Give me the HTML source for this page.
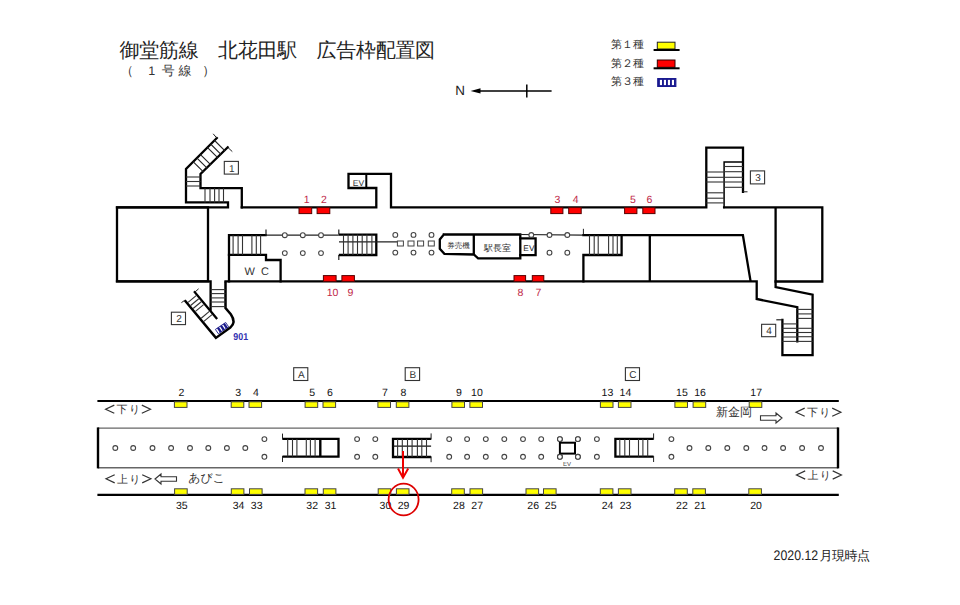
<!DOCTYPE html>
<html><head><meta charset="utf-8"><style>
html,body{margin:0;padding:0;background:#fff;width:960px;height:605px;overflow:hidden}
svg{position:absolute;left:0;top:0}
text{font-family:"Liberation Sans",sans-serif;text-rendering:geometricPrecision}
</style></head><body>
<svg width="960" height="605" viewBox="0 0 960 605">
<text x="119.6" y="56.8" font-size="20" fill="#222" textLength="315.5" lengthAdjust="spacing">御堂筋線　北花田駅　広告枠配置図</text>
<text x="120.4" y="74.8" font-size="13" fill="#333">（</text><text x="151.7" y="74.9" font-size="12.5" fill="#333" text-anchor="middle">1</text><text x="168.3" y="74.8" font-size="13" fill="#333" text-anchor="middle">号</text><text x="184.9" y="74.8" font-size="13" fill="#333" text-anchor="middle">線</text><text x="202.3" y="74.8" font-size="13" fill="#333">）</text>
<text x="611" y="47.8" font-size="11" fill="#333">第１種</text>
<text x="611" y="66.8" font-size="11" fill="#333">第２種</text>
<text x="611" y="85.3" font-size="11" fill="#333">第３種</text>
<rect x="657.3" y="42.2" width="17.7" height="6.8" fill="#ff0" stroke="#222" stroke-width="1"/>
<line x1="653.6" y1="50" x2="679.6" y2="50" stroke="#000" stroke-width="2"/>
<rect x="657.3" y="60" width="17.7" height="7.3" fill="#f00" stroke="#300" stroke-width="1"/>
<line x1="653.6" y1="68.3" x2="679.6" y2="68.3" stroke="#000" stroke-width="2"/>
<rect x="657.7" y="78.5" width="18.2" height="8" fill="#1a1a90" stroke="#1a1a90" stroke-width="1"/>
<rect x="659.9" y="79.9" width="2.1" height="5.2" fill="#fff"/><rect x="663.9" y="79.9" width="2.1" height="5.2" fill="#fff"/><rect x="667.9" y="79.9" width="2.1" height="5.2" fill="#fff"/><rect x="671.9" y="79.9" width="2.1" height="5.2" fill="#fff"/>
<text x="455.2" y="95.4" font-size="13.4" fill="#222">N</text>
<path d="M470.6,90.9 L480.5,88.2 L480.5,93.6 Z" fill="#000"/>
<line x1="479" y1="90.9" x2="551.6" y2="90.9" stroke="#000" stroke-width="1.5"/>
<line x1="526.8" y1="84.6" x2="526.8" y2="97.4" stroke="#000" stroke-width="1.5"/>
<path d="M117,207.4 L117,281.4 L208,281.4 L208,207.4 L117,207.4" stroke="#000" stroke-width="2.3" fill="none" stroke-linecap="square" />
<path d="M117,207.4 L228,207.4 L228,202.4 L186,202.4 L186,169 L216.8,138.1" stroke="#000" stroke-width="2.3" fill="none" stroke-linecap="square" />
<path d="M241.8,207.4 L241.8,188.2 L200.5,188.2 L200.5,174 L227.7,147.3" stroke="#000" stroke-width="2.3" fill="none" stroke-linecap="square" />
<line x1="216.8" y1="138.1" x2="213.2" y2="133.8" stroke="#222" stroke-width="1"/>
<line x1="227.7" y1="147.3" x2="232.3" y2="151.6" stroke="#222" stroke-width="1"/>
<line x1="193.04999999999998" y1="161.54999999999998" x2="203.65" y2="172.15" stroke="#222" stroke-width="1.1"/>
<line x1="196.75" y1="157.84999999999997" x2="207.35000000000002" y2="168.45" stroke="#222" stroke-width="1.1"/>
<line x1="200.25" y1="154.34999999999997" x2="210.85000000000002" y2="164.95" stroke="#222" stroke-width="1.1"/>
<line x1="207.29999999999998" y1="147.29999999999998" x2="217.9" y2="157.9" stroke="#222" stroke-width="1.1"/>
<line x1="210.6" y1="143.99999999999997" x2="221.20000000000002" y2="154.6" stroke="#222" stroke-width="1.1"/>
<line x1="214.35" y1="140.24999999999997" x2="224.95000000000002" y2="150.85" stroke="#222" stroke-width="1.1"/>
<line x1="186" y1="177" x2="200.5" y2="177" stroke="#333" stroke-width="1.1"/>
<line x1="186" y1="181.5" x2="200.5" y2="181.5" stroke="#333" stroke-width="1.1"/>
<line x1="186" y1="186" x2="200.5" y2="186" stroke="#333" stroke-width="1.1"/>
<line x1="205" y1="188.2" x2="205" y2="202.4" stroke="#333" stroke-width="1.1"/>
<line x1="210" y1="188.2" x2="210" y2="202.4" stroke="#333" stroke-width="1.1"/>
<line x1="214.6" y1="188.2" x2="214.6" y2="202.4" stroke="#333" stroke-width="1.1"/>
<line x1="219" y1="188.2" x2="219" y2="202.4" stroke="#333" stroke-width="1.1"/>
<line x1="223.5" y1="188.2" x2="223.5" y2="202.4" stroke="#333" stroke-width="1.1"/>
<rect x="224.3" y="161.4" width="14.099999999999994" height="12.699999999999989" fill="#fff" stroke="#333" stroke-width="1.1"/>
<text x="231.85000000000002" y="171.6" font-size="10" fill="#333" text-anchor="middle" >1</text>
<path d="M241.8,207.4 L376.3,207.4 L376.3,188 L348.5,188 L348.5,173.9 L391,173.9 L391,207.4 L706.3,207.4 L706.3,147.6 L743,147.6 L743,191.8" stroke="#000" stroke-width="2.3" fill="none" stroke-linecap="square" />
<line x1="366.3" y1="173.9" x2="366.3" y2="188" stroke="#000" stroke-width="2"/>
<text x="358.5" y="186" font-size="8.5" fill="#333" text-anchor="middle" >EV</text>
<path d="M724.1,207.4 L724.1,162 L743,162" stroke="#000" stroke-width="1.5" fill="none" stroke-linecap="square" />
<line x1="743" y1="191.8" x2="747.5" y2="191.8" stroke="#222" stroke-width="1"/>
<line x1="724.1" y1="166.5" x2="743" y2="166.5" stroke="#333" stroke-width="1.1"/>
<line x1="724.1" y1="171.7" x2="743" y2="171.7" stroke="#333" stroke-width="1.1"/>
<line x1="724.1" y1="177.3" x2="743" y2="177.3" stroke="#333" stroke-width="1.1"/>
<line x1="724.1" y1="182" x2="743" y2="182" stroke="#333" stroke-width="1.1"/>
<line x1="724.1" y1="187.3" x2="743" y2="187.3" stroke="#333" stroke-width="1.1"/>
<line x1="706.3" y1="172" x2="724.1" y2="172" stroke="#333" stroke-width="1.1"/>
<line x1="706.3" y1="177.3" x2="724.1" y2="177.3" stroke="#333" stroke-width="1.1"/>
<line x1="706.3" y1="182" x2="724.1" y2="182" stroke="#333" stroke-width="1.1"/>
<line x1="706.3" y1="192.8" x2="724.1" y2="192.8" stroke="#333" stroke-width="1.1"/>
<line x1="706.3" y1="198.2" x2="724.1" y2="198.2" stroke="#333" stroke-width="1.1"/>
<line x1="706.3" y1="202.9" x2="724.1" y2="202.9" stroke="#333" stroke-width="1.1"/>
<rect x="750.4" y="170.9" width="14.200000000000045" height="13.0" fill="#fff" stroke="#333" stroke-width="1.1"/>
<text x="758.0" y="181.4" font-size="10" fill="#333" text-anchor="middle" >3</text>
<path d="M724.1,207.4 L822.3,207.4 L822.3,281.5 L775.6,281.5 L775.6,207.4" stroke="#000" stroke-width="2.3" fill="none" stroke-linecap="square" />
<path d="M117,281.4 L210.6,281.4 L210.6,309.5" stroke="#000" stroke-width="2.3" fill="none" stroke-linecap="square" />
<path d="M225.5,281.4 L756.7,281.4 L756.7,299 L797.3,307.2 L797.3,341.4" stroke="#000" stroke-width="2.3" fill="none" stroke-linecap="square" />
<path d="M775.6,281.5 L775.6,287.1 L812.6,294.6 L812.6,355.1 L782.4,355.1 L782.4,319.8" stroke="#000" stroke-width="2.3" fill="none" stroke-linecap="square" />
<line x1="782.4" y1="319.8" x2="776.3" y2="319.8" stroke="#222" stroke-width="1.2"/>
<line x1="797.3" y1="309.4" x2="812.6" y2="309.4" stroke="#333" stroke-width="1.1"/>
<line x1="797.3" y1="313.9" x2="812.6" y2="313.9" stroke="#333" stroke-width="1.1"/>
<line x1="797.3" y1="318.4" x2="812.6" y2="318.4" stroke="#333" stroke-width="1.1"/>
<line x1="797.3" y1="328.3" x2="812.6" y2="328.3" stroke="#333" stroke-width="1.1"/>
<line x1="797.3" y1="332.5" x2="812.6" y2="332.5" stroke="#333" stroke-width="1.1"/>
<line x1="797.3" y1="336.7" x2="812.6" y2="336.7" stroke="#333" stroke-width="1.1"/>
<line x1="797.3" y1="341.4" x2="812.6" y2="341.4" stroke="#333" stroke-width="1.1"/>
<line x1="782.4" y1="323.9" x2="797.3" y2="323.9" stroke="#333" stroke-width="1.1"/>
<line x1="782.4" y1="328.3" x2="797.3" y2="328.3" stroke="#333" stroke-width="1.1"/>
<line x1="782.4" y1="332.5" x2="797.3" y2="332.5" stroke="#333" stroke-width="1.1"/>
<line x1="782.4" y1="337" x2="797.3" y2="337" stroke="#333" stroke-width="1.1"/>
<line x1="782.4" y1="341.4" x2="797.3" y2="341.4" stroke="#333" stroke-width="1.1"/>
<rect x="761.6" y="324.3" width="14.100000000000023" height="12.399999999999977" fill="#fff" stroke="#333" stroke-width="1.1"/>
<text x="769.1500000000001" y="334.2" font-size="10" fill="#333" text-anchor="middle" >4</text>
<path d="M650,235.2 L742.9,235.2 L750.6,281.4" stroke="#000" stroke-width="2.3" fill="none" stroke-linecap="butt" />
<line x1="649.8" y1="235.2" x2="649.8" y2="281.4" stroke="#000" stroke-width="2.3"/>
<path d="M583.4,229.3 L583.4,235.2" stroke="#222" stroke-width="1" fill="none" stroke-linecap="square" />
<path d="M583.4,235.2 L650,235.2" stroke="#000" stroke-width="2.3" fill="none" stroke-linecap="square" />
<path d="M621.6,235.2 L621.6,255 L583.4,255 L583.4,281.4" stroke="#000" stroke-width="2.3" fill="none" stroke-linecap="square" />
<line x1="589.5" y1="235.2" x2="589.5" y2="255" stroke="#333" stroke-width="1.1"/>
<line x1="594.2" y1="235.2" x2="594.2" y2="255" stroke="#333" stroke-width="1.1"/>
<line x1="598.2" y1="235.2" x2="598.2" y2="255" stroke="#333" stroke-width="1.1"/>
<line x1="608.6" y1="235.2" x2="608.6" y2="255" stroke="#333" stroke-width="1.1"/>
<line x1="613" y1="235.2" x2="613" y2="255" stroke="#333" stroke-width="1.1"/>
<line x1="617.3" y1="235.2" x2="617.3" y2="255" stroke="#333" stroke-width="1.1"/>
<path d="M265.6,235.2 L229,235.2 L229,281.4" stroke="#000" stroke-width="2.3" fill="none" stroke-linecap="square" />
<path d="M229,254.8 L266,254.8 L266,260 L280.6,260 L280.6,281.4" stroke="#000" stroke-width="2.3" fill="none" stroke-linecap="square" />
<line x1="233.1" y1="235.2" x2="233.1" y2="254.8" stroke="#333" stroke-width="1.1"/>
<line x1="238.1" y1="235.2" x2="238.1" y2="254.8" stroke="#333" stroke-width="1.1"/>
<line x1="242.5" y1="235.2" x2="242.5" y2="254.8" stroke="#333" stroke-width="1.1"/>
<line x1="251.9" y1="235.2" x2="251.9" y2="254.8" stroke="#333" stroke-width="1.1"/>
<line x1="256.3" y1="235.2" x2="256.3" y2="254.8" stroke="#333" stroke-width="1.1"/>
<line x1="260.6" y1="235.2" x2="260.6" y2="254.8" stroke="#333" stroke-width="1.1"/>
<text x="249.8" y="275.2" font-size="11" fill="#333" text-anchor="middle" >W</text>
<text x="265" y="275.2" font-size="11" fill="#333" text-anchor="middle" >C</text>
<line x1="265.6" y1="235.2" x2="338.8" y2="235.2" stroke="#222" stroke-width="1.2"/>
<line x1="266" y1="229.4" x2="266" y2="235.2" stroke="#222" stroke-width="1.2"/>
<line x1="338.8" y1="229.5" x2="338.8" y2="234.5" stroke="#222" stroke-width="1.2"/>
<line x1="338.8" y1="255" x2="338.8" y2="260" stroke="#222" stroke-width="1.2"/>
<path d="M338.8,234.6 L376.3,234.6 L376.3,255 L338.8,255" stroke="#000" stroke-width="2.3" fill="none" stroke-linecap="butt" />
<line x1="339" y1="241.8" x2="398" y2="241.8" stroke="#222" stroke-width="1.2"/>
<line x1="343.5" y1="234.6" x2="343.5" y2="255" stroke="#333" stroke-width="1.1"/>
<line x1="348.1" y1="234.6" x2="348.1" y2="255" stroke="#333" stroke-width="1.1"/>
<line x1="352.9" y1="234.6" x2="352.9" y2="255" stroke="#333" stroke-width="1.1"/>
<line x1="357.5" y1="234.6" x2="357.5" y2="255" stroke="#333" stroke-width="1.1"/>
<line x1="362.2" y1="234.6" x2="362.2" y2="255" stroke="#333" stroke-width="1.1"/>
<line x1="366.9" y1="234.6" x2="366.9" y2="255" stroke="#333" stroke-width="1.1"/>
<line x1="371.9" y1="234.6" x2="371.9" y2="255" stroke="#333" stroke-width="1.1"/>
<circle cx="284.8" cy="235.2" r="2.4" stroke="#444" stroke-width="1.1" fill="#fff"/>
<circle cx="284.8" cy="253.1" r="2.4" stroke="#444" stroke-width="1.1" fill="#fff"/>
<circle cx="302.8" cy="235.2" r="2.4" stroke="#444" stroke-width="1.1" fill="#fff"/>
<circle cx="302.8" cy="253.1" r="2.4" stroke="#444" stroke-width="1.1" fill="#fff"/>
<circle cx="321" cy="235.2" r="2.4" stroke="#444" stroke-width="1.1" fill="#fff"/>
<circle cx="321" cy="253.1" r="2.4" stroke="#444" stroke-width="1.1" fill="#fff"/>
<circle cx="395.3" cy="234.9" r="2.4" stroke="#444" stroke-width="1.1" fill="#fff"/>
<circle cx="395.3" cy="252.6" r="2.4" stroke="#444" stroke-width="1.1" fill="#fff"/>
<circle cx="413.5" cy="234.9" r="2.4" stroke="#444" stroke-width="1.1" fill="#fff"/>
<circle cx="413.5" cy="252.6" r="2.4" stroke="#444" stroke-width="1.1" fill="#fff"/>
<circle cx="431.5" cy="234.9" r="2.4" stroke="#444" stroke-width="1.1" fill="#fff"/>
<circle cx="431.5" cy="252.6" r="2.4" stroke="#444" stroke-width="1.1" fill="#fff"/>
<rect x="397.4" y="241" width="6" height="5" fill="#fff" stroke="#444" stroke-width="1"/>
<rect x="408" y="241" width="6" height="5" fill="#fff" stroke="#444" stroke-width="1"/>
<rect x="417.6" y="241" width="6" height="5" fill="#fff" stroke="#444" stroke-width="1"/>
<rect x="428.3" y="241" width="6" height="5" fill="#fff" stroke="#444" stroke-width="1"/>
<path d="M443.8,234.5 L520.3,234.5 L520.3,258.3 L478.1,258.3 L473.8,254.5 L444.4,253.9 L439.8,248.9 L439.8,239.5 L443.8,234.5" stroke="#000" stroke-width="2.3" fill="none" stroke-linecap="square" />
<line x1="473.8" y1="234.5" x2="473.8" y2="254.5" stroke="#000" stroke-width="2.3"/>
<text x="458.5" y="247.6" font-size="7.5" fill="#333" text-anchor="middle" >券売機</text>
<text x="497.5" y="250.6" font-size="9" fill="#333" text-anchor="middle" >駅長室</text>
<path d="M520.3,238.3 L535.6,238.3 L535.6,255.1 L520.3,255.1" stroke="#000" stroke-width="2.3" fill="none" stroke-linecap="square" />
<text x="528.9" y="251.3" font-size="8.3" fill="#222" text-anchor="middle" >EV</text>
<line x1="520.3" y1="234.5" x2="583.4" y2="235.2" stroke="#222" stroke-width="1.2"/>
<circle cx="531.3" cy="235" r="2.4" stroke="#444" stroke-width="1.1" fill="#fff"/>
<circle cx="549.5" cy="235" r="2.4" stroke="#444" stroke-width="1.1" fill="#fff"/>
<circle cx="567.3" cy="235" r="2.4" stroke="#444" stroke-width="1.1" fill="#fff"/>
<circle cx="549.5" cy="252.7" r="2.4" stroke="#444" stroke-width="1.1" fill="#fff"/>
<circle cx="567.3" cy="252.7" r="2.4" stroke="#444" stroke-width="1.1" fill="#fff"/>
<path d="M225.5,281.4 L225.5,308 L230.8,314.3 Q236.5,322.5 230.3,327.6 L215.9,337.9 L184.7,300.3" stroke="#000" stroke-width="2.5" fill="none" stroke-linejoin="miter"/>
<line x1="184.7" y1="300.3" x2="181.4" y2="302.7" stroke="#222" stroke-width="1"/>
<path d="M194.8,292.2 L216.4,318.1" stroke="#000" stroke-width="2.3" fill="none" stroke-linecap="square" />
<line x1="194.8" y1="292.2" x2="198.6" y2="288.8" stroke="#222" stroke-width="1"/>
<line x1="210.6" y1="289.6" x2="225.5" y2="289.6" stroke="#333" stroke-width="1.1"/>
<line x1="210.6" y1="293.6" x2="225.5" y2="293.6" stroke="#333" stroke-width="1.1"/>
<line x1="210.6" y1="297.9" x2="225.5" y2="297.9" stroke="#333" stroke-width="1.1"/>
<line x1="210.6" y1="302" x2="225.5" y2="302" stroke="#333" stroke-width="1.1"/>
<line x1="210.6" y1="306.6" x2="225.5" y2="306.6" stroke="#333" stroke-width="1.1"/>
<line x1="188.03826666666666" y1="302.432" x2="196.17906666666664" y2="295.64799999999997" stroke="#333" stroke-width="1.1"/>
<line x1="190.6216" y1="305.53200000000004" x2="198.76239999999999" y2="298.748" stroke="#333" stroke-width="1.1"/>
<line x1="193.1216" y1="308.53200000000004" x2="201.26239999999999" y2="301.748" stroke="#333" stroke-width="1.1"/>
<line x1="195.45493333333334" y1="311.33200000000005" x2="203.59573333333333" y2="304.548" stroke="#333" stroke-width="1.1"/>
<line x1="201.20493333333332" y1="318.232" x2="209.3457333333333" y2="311.448" stroke="#333" stroke-width="1.1"/>
<line x1="203.87159999999997" y1="321.432" x2="212.01239999999996" y2="314.64799999999997" stroke="#333" stroke-width="1.1"/>
<rect x="171.4" y="312.2" width="14.099999999999994" height="12.400000000000034" fill="#fff" stroke="#333" stroke-width="1.1"/>
<text x="178.95" y="322.1" font-size="10" fill="#333" text-anchor="middle" >2</text>
<g transform="translate(222.0,328.1) rotate(-34)"><rect x="-6.2" y="-2.6" width="12.4" height="5.2" fill="#fff" stroke="#1a1a8a" stroke-width="0.8"/><rect x="-4.3" y="-2.6" width="2.3" height="5.2" fill="#1a1a8a"/><rect x="-0.7" y="-2.6" width="2.3" height="5.2" fill="#1a1a8a"/><rect x="2.9" y="-2.6" width="2.3" height="5.2" fill="#1a1a8a"/></g>
<text x="233.3" y="340.3" font-size="10" font-weight="bold" fill="#3030b0" textLength="14.8" lengthAdjust="spacingAndGlyphs">901</text>
<rect x="299" y="207.6" width="12.699999999999989" height="6.0" fill="#f00" stroke="#500" stroke-width="1"/>
<rect x="317.1" y="207.6" width="12.699999999999989" height="6.0" fill="#f00" stroke="#500" stroke-width="1"/>
<rect x="550.8" y="207.6" width="12.100000000000023" height="6.0" fill="#f00" stroke="#500" stroke-width="1"/>
<rect x="568.7" y="207.6" width="12.5" height="6.0" fill="#f00" stroke="#500" stroke-width="1"/>
<rect x="624.6" y="207.6" width="12.299999999999955" height="6.0" fill="#f00" stroke="#500" stroke-width="1"/>
<rect x="642.8" y="207.6" width="12.200000000000045" height="6.0" fill="#f00" stroke="#500" stroke-width="1"/>
<text x="306.7" y="202.6" font-size="10.5" fill="#c02848" text-anchor="middle">1</text>
<text x="323.8" y="202.6" font-size="10.5" fill="#c02848" text-anchor="middle">2</text>
<text x="557.4" y="202.6" font-size="10.5" fill="#c02848" text-anchor="middle">3</text>
<text x="575.6" y="202.6" font-size="10.5" fill="#c02848" text-anchor="middle">4</text>
<text x="632.9" y="202.6" font-size="10.5" fill="#c02848" text-anchor="middle">5</text>
<text x="649.4" y="202.6" font-size="10.5" fill="#c02848" text-anchor="middle">6</text>
<rect x="323.4" y="275.6" width="12.700000000000045" height="5.8" fill="#f00" stroke="#500" stroke-width="1"/>
<rect x="341.9" y="275.6" width="12.5" height="5.8" fill="#f00" stroke="#500" stroke-width="1"/>
<rect x="514" y="275.6" width="11.600000000000023" height="5.8" fill="#f00" stroke="#500" stroke-width="1"/>
<rect x="532.3" y="275.6" width="11.5" height="5.8" fill="#f00" stroke="#500" stroke-width="1"/>
<text x="332.5" y="295.7" font-size="10.5" fill="#c02848" text-anchor="middle">10</text>
<text x="350.5" y="295.7" font-size="10.5" fill="#c02848" text-anchor="middle">9</text>
<text x="520.5" y="295.7" font-size="10.5" fill="#c02848" text-anchor="middle">8</text>
<text x="538.5" y="295.7" font-size="10.5" fill="#c02848" text-anchor="middle">7</text>
<line x1="97.4" y1="401" x2="838.8" y2="401" stroke="#000" stroke-width="2.2"/>
<line x1="97.4" y1="494.8" x2="838.8" y2="494.8" stroke="#000" stroke-width="2.2"/>
<line x1="98" y1="428.1" x2="838" y2="428.1" stroke="#666" stroke-width="1.4"/>
<line x1="98" y1="467.7" x2="838" y2="467.7" stroke="#666" stroke-width="1.4"/>
<line x1="98" y1="427.4" x2="98" y2="468.4" stroke="#000" stroke-width="2.4"/>
<line x1="838" y1="427.4" x2="838" y2="468.4" stroke="#000" stroke-width="2.4"/>
<rect x="174.4" y="401.8" width="12.6" height="5.6" fill="#ff0" stroke="#444" stroke-width="1"/>
<text x="181.4" y="396" font-size="10.5" fill="#111" text-anchor="middle">2</text>
<rect x="231.2" y="401.8" width="12.6" height="5.6" fill="#ff0" stroke="#444" stroke-width="1"/>
<text x="238.2" y="396" font-size="10.5" fill="#111" text-anchor="middle">3</text>
<rect x="249" y="401.8" width="12.6" height="5.6" fill="#ff0" stroke="#444" stroke-width="1"/>
<text x="256" y="396" font-size="10.5" fill="#111" text-anchor="middle">4</text>
<rect x="305.1" y="401.8" width="12.6" height="5.6" fill="#ff0" stroke="#444" stroke-width="1"/>
<text x="312.1" y="396" font-size="10.5" fill="#111" text-anchor="middle">5</text>
<rect x="323" y="401.8" width="12.6" height="5.6" fill="#ff0" stroke="#444" stroke-width="1"/>
<text x="330" y="396" font-size="10.5" fill="#111" text-anchor="middle">6</text>
<rect x="377.9" y="401.8" width="12.6" height="5.6" fill="#ff0" stroke="#444" stroke-width="1"/>
<text x="384.9" y="396" font-size="10.5" fill="#111" text-anchor="middle">7</text>
<rect x="396.3" y="401.8" width="12.6" height="5.6" fill="#ff0" stroke="#444" stroke-width="1"/>
<text x="403.3" y="396" font-size="10.5" fill="#111" text-anchor="middle">8</text>
<rect x="451.9" y="401.8" width="12.6" height="5.6" fill="#ff0" stroke="#444" stroke-width="1"/>
<text x="458.9" y="396" font-size="10.5" fill="#111" text-anchor="middle">9</text>
<rect x="469.9" y="401.8" width="12.6" height="5.6" fill="#ff0" stroke="#444" stroke-width="1"/>
<text x="476.9" y="396" font-size="10.5" fill="#111" text-anchor="middle">10</text>
<rect x="600.4" y="401.8" width="12.6" height="5.6" fill="#ff0" stroke="#444" stroke-width="1"/>
<text x="607.4" y="396" font-size="10.5" fill="#111" text-anchor="middle">13</text>
<rect x="618.4" y="401.8" width="12.6" height="5.6" fill="#ff0" stroke="#444" stroke-width="1"/>
<text x="625.4" y="396" font-size="10.5" fill="#111" text-anchor="middle">14</text>
<rect x="674.9" y="401.8" width="12.6" height="5.6" fill="#ff0" stroke="#444" stroke-width="1"/>
<text x="681.9" y="396" font-size="10.5" fill="#111" text-anchor="middle">15</text>
<rect x="693.1" y="401.8" width="12.6" height="5.6" fill="#ff0" stroke="#444" stroke-width="1"/>
<text x="700.1" y="396" font-size="10.5" fill="#111" text-anchor="middle">16</text>
<rect x="749.2" y="401.8" width="12.6" height="5.6" fill="#ff0" stroke="#444" stroke-width="1"/>
<text x="756.2" y="396" font-size="10.5" fill="#111" text-anchor="middle">17</text>
<rect x="174.6" y="488.8" width="12.6" height="5.6" fill="#ff0" stroke="#444" stroke-width="1"/>
<text x="181.79999999999998" y="509" font-size="10.5" fill="#111" text-anchor="middle">35</text>
<rect x="231.3" y="488.8" width="12.6" height="5.6" fill="#ff0" stroke="#444" stroke-width="1"/>
<text x="238.5" y="509" font-size="10.5" fill="#111" text-anchor="middle">34</text>
<rect x="249.5" y="488.8" width="12.6" height="5.6" fill="#ff0" stroke="#444" stroke-width="1"/>
<text x="256.7" y="509" font-size="10.5" fill="#111" text-anchor="middle">33</text>
<rect x="305" y="488.8" width="12.6" height="5.6" fill="#ff0" stroke="#444" stroke-width="1"/>
<text x="312.2" y="509" font-size="10.5" fill="#111" text-anchor="middle">32</text>
<rect x="323.3" y="488.8" width="12.6" height="5.6" fill="#ff0" stroke="#444" stroke-width="1"/>
<text x="330.5" y="509" font-size="10.5" fill="#111" text-anchor="middle">31</text>
<rect x="378.2" y="488.8" width="12.6" height="5.6" fill="#ff0" stroke="#444" stroke-width="1"/>
<text x="385.4" y="509" font-size="10.5" fill="#111" text-anchor="middle">30</text>
<rect x="396.4" y="488.8" width="12.6" height="5.6" fill="#ff0" stroke="#444" stroke-width="1"/>
<text x="403.59999999999997" y="509" font-size="10.5" fill="#111" text-anchor="middle">29</text>
<rect x="451.7" y="488.8" width="12.6" height="5.6" fill="#ff0" stroke="#444" stroke-width="1"/>
<text x="458.9" y="509" font-size="10.5" fill="#111" text-anchor="middle">28</text>
<rect x="470" y="488.8" width="12.6" height="5.6" fill="#ff0" stroke="#444" stroke-width="1"/>
<text x="477.2" y="509" font-size="10.5" fill="#111" text-anchor="middle">27</text>
<rect x="526" y="488.8" width="12.6" height="5.6" fill="#ff0" stroke="#444" stroke-width="1"/>
<text x="533.2" y="509" font-size="10.5" fill="#111" text-anchor="middle">26</text>
<rect x="543.5" y="488.8" width="12.6" height="5.6" fill="#ff0" stroke="#444" stroke-width="1"/>
<text x="550.7" y="509" font-size="10.5" fill="#111" text-anchor="middle">25</text>
<rect x="600.3" y="488.8" width="12.6" height="5.6" fill="#ff0" stroke="#444" stroke-width="1"/>
<text x="607.5" y="509" font-size="10.5" fill="#111" text-anchor="middle">24</text>
<rect x="618.4" y="488.8" width="12.6" height="5.6" fill="#ff0" stroke="#444" stroke-width="1"/>
<text x="625.6" y="509" font-size="10.5" fill="#111" text-anchor="middle">23</text>
<rect x="674.7" y="488.8" width="12.6" height="5.6" fill="#ff0" stroke="#444" stroke-width="1"/>
<text x="681.9000000000001" y="509" font-size="10.5" fill="#111" text-anchor="middle">22</text>
<rect x="692.8" y="488.8" width="12.6" height="5.6" fill="#ff0" stroke="#444" stroke-width="1"/>
<text x="700.0" y="509" font-size="10.5" fill="#111" text-anchor="middle">21</text>
<rect x="748.8" y="488.8" width="12.6" height="5.6" fill="#ff0" stroke="#444" stroke-width="1"/>
<text x="756.0" y="509" font-size="10.5" fill="#111" text-anchor="middle">20</text>
<circle cx="115.3" cy="448" r="2.4" stroke="#444" stroke-width="1.1" fill="#fff"/>
<circle cx="133.2" cy="448" r="2.4" stroke="#444" stroke-width="1.1" fill="#fff"/>
<circle cx="152.5" cy="448" r="2.4" stroke="#444" stroke-width="1.1" fill="#fff"/>
<circle cx="171.1" cy="448" r="2.4" stroke="#444" stroke-width="1.1" fill="#fff"/>
<circle cx="190" cy="448" r="2.4" stroke="#444" stroke-width="1.1" fill="#fff"/>
<circle cx="208.3" cy="448" r="2.4" stroke="#444" stroke-width="1.1" fill="#fff"/>
<circle cx="226.9" cy="448" r="2.4" stroke="#444" stroke-width="1.1" fill="#fff"/>
<circle cx="245.3" cy="448" r="2.4" stroke="#444" stroke-width="1.1" fill="#fff"/>
<circle cx="708.3" cy="448" r="2.4" stroke="#444" stroke-width="1.1" fill="#fff"/>
<circle cx="727.3" cy="448" r="2.4" stroke="#444" stroke-width="1.1" fill="#fff"/>
<circle cx="746.3" cy="448" r="2.4" stroke="#444" stroke-width="1.1" fill="#fff"/>
<circle cx="764.5" cy="448" r="2.4" stroke="#444" stroke-width="1.1" fill="#fff"/>
<circle cx="783.1" cy="448" r="2.4" stroke="#444" stroke-width="1.1" fill="#fff"/>
<circle cx="802.1" cy="448" r="2.4" stroke="#444" stroke-width="1.1" fill="#fff"/>
<circle cx="821" cy="448" r="2.4" stroke="#444" stroke-width="1.1" fill="#fff"/>
<circle cx="264.4" cy="439.1" r="2.4" stroke="#444" stroke-width="1.1" fill="#fff"/>
<circle cx="264.4" cy="456.8" r="2.4" stroke="#444" stroke-width="1.1" fill="#fff"/>
<circle cx="357.1" cy="439.1" r="2.4" stroke="#444" stroke-width="1.1" fill="#fff"/>
<circle cx="357.1" cy="456.8" r="2.4" stroke="#444" stroke-width="1.1" fill="#fff"/>
<circle cx="375.3" cy="439.1" r="2.4" stroke="#444" stroke-width="1.1" fill="#fff"/>
<circle cx="375.3" cy="456.8" r="2.4" stroke="#444" stroke-width="1.1" fill="#fff"/>
<circle cx="449.2" cy="439.1" r="2.4" stroke="#444" stroke-width="1.1" fill="#fff"/>
<circle cx="449.2" cy="456.8" r="2.4" stroke="#444" stroke-width="1.1" fill="#fff"/>
<circle cx="467.1" cy="439.1" r="2.4" stroke="#444" stroke-width="1.1" fill="#fff"/>
<circle cx="467.1" cy="456.8" r="2.4" stroke="#444" stroke-width="1.1" fill="#fff"/>
<circle cx="485.8" cy="439.1" r="2.4" stroke="#444" stroke-width="1.1" fill="#fff"/>
<circle cx="485.8" cy="456.8" r="2.4" stroke="#444" stroke-width="1.1" fill="#fff"/>
<circle cx="504.3" cy="439.1" r="2.4" stroke="#444" stroke-width="1.1" fill="#fff"/>
<circle cx="504.3" cy="456.8" r="2.4" stroke="#444" stroke-width="1.1" fill="#fff"/>
<circle cx="523" cy="439.1" r="2.4" stroke="#444" stroke-width="1.1" fill="#fff"/>
<circle cx="523" cy="456.8" r="2.4" stroke="#444" stroke-width="1.1" fill="#fff"/>
<circle cx="541.2" cy="439.1" r="2.4" stroke="#444" stroke-width="1.1" fill="#fff"/>
<circle cx="541.2" cy="456.8" r="2.4" stroke="#444" stroke-width="1.1" fill="#fff"/>
<circle cx="559.9" cy="439.1" r="2.4" stroke="#444" stroke-width="1.1" fill="#fff"/>
<circle cx="559.9" cy="456.8" r="2.4" stroke="#444" stroke-width="1.1" fill="#fff"/>
<circle cx="577.9" cy="439.1" r="2.4" stroke="#444" stroke-width="1.1" fill="#fff"/>
<circle cx="577.9" cy="456.8" r="2.4" stroke="#444" stroke-width="1.1" fill="#fff"/>
<circle cx="596.9" cy="439.1" r="2.4" stroke="#444" stroke-width="1.1" fill="#fff"/>
<circle cx="596.9" cy="456.8" r="2.4" stroke="#444" stroke-width="1.1" fill="#fff"/>
<circle cx="671.4" cy="439.1" r="2.4" stroke="#444" stroke-width="1.1" fill="#fff"/>
<circle cx="671.4" cy="456.8" r="2.4" stroke="#444" stroke-width="1.1" fill="#fff"/>
<circle cx="689.5" cy="448" r="2.4" stroke="#444" stroke-width="1.1" fill="#fff"/>
<path d="M282.5,438.9 L338.5,438.9 L338.5,456.6 L282.5,456.6" stroke="#000" stroke-width="2.3" fill="none" stroke-linecap="butt" />
<line x1="282.5" y1="433.6" x2="282.5" y2="439.5" stroke="#222" stroke-width="1"/>
<line x1="282.5" y1="456" x2="282.5" y2="462" stroke="#222" stroke-width="1"/>
<line x1="320.3" y1="438.9" x2="320.3" y2="456.6" stroke="#000" stroke-width="2.4"/>
<line x1="287.7" y1="438.9" x2="287.7" y2="456.6" stroke="#333" stroke-width="1.1"/>
<line x1="292.5" y1="438.9" x2="292.5" y2="456.6" stroke="#333" stroke-width="1.1"/>
<line x1="296.9" y1="438.9" x2="296.9" y2="456.6" stroke="#333" stroke-width="1.1"/>
<line x1="306.3" y1="438.9" x2="306.3" y2="456.6" stroke="#333" stroke-width="1.1"/>
<line x1="310.4" y1="438.9" x2="310.4" y2="456.6" stroke="#333" stroke-width="1.1"/>
<line x1="315.1" y1="438.9" x2="315.1" y2="456.6" stroke="#333" stroke-width="1.1"/>
<path d="M431.1,438.9 L393,438.9 L393,457 L431.1,457" stroke="#000" stroke-width="2.3" fill="none" stroke-linecap="butt" />
<line x1="393" y1="446.1" x2="431.1" y2="446.1" stroke="#111" stroke-width="1.4"/>
<line x1="431.1" y1="433.4" x2="431.1" y2="439.5" stroke="#222" stroke-width="1"/>
<line x1="431.1" y1="456.4" x2="431.1" y2="462.2" stroke="#222" stroke-width="1"/>
<line x1="397.6" y1="438.9" x2="397.6" y2="457" stroke="#333" stroke-width="1.1"/>
<line x1="402.3" y1="438.9" x2="402.3" y2="457" stroke="#333" stroke-width="1.1"/>
<line x1="407.5" y1="438.9" x2="407.5" y2="457" stroke="#333" stroke-width="1.1"/>
<line x1="412.1" y1="438.9" x2="412.1" y2="457" stroke="#333" stroke-width="1.1"/>
<line x1="417.4" y1="438.9" x2="417.4" y2="457" stroke="#333" stroke-width="1.1"/>
<line x1="421.8" y1="438.9" x2="421.8" y2="457" stroke="#333" stroke-width="1.1"/>
<line x1="426.5" y1="438.9" x2="426.5" y2="457" stroke="#333" stroke-width="1.1"/>
<path d="M653.6,438.9 L615.4,438.9 L615.4,456.6 L653.6,456.6" stroke="#000" stroke-width="2.3" fill="none" stroke-linecap="butt" />
<line x1="653.6" y1="433.4" x2="653.6" y2="439.5" stroke="#222" stroke-width="1"/>
<line x1="653.6" y1="456" x2="653.6" y2="462" stroke="#222" stroke-width="1"/>
<line x1="619.8" y1="438.9" x2="619.8" y2="456.6" stroke="#333" stroke-width="1.1"/>
<line x1="624.8" y1="438.9" x2="624.8" y2="456.6" stroke="#333" stroke-width="1.1"/>
<line x1="629.5" y1="438.9" x2="629.5" y2="456.6" stroke="#333" stroke-width="1.1"/>
<line x1="638.5" y1="438.9" x2="638.5" y2="456.6" stroke="#333" stroke-width="1.1"/>
<line x1="642.9" y1="438.9" x2="642.9" y2="456.6" stroke="#333" stroke-width="1.1"/>
<line x1="647.7" y1="438.9" x2="647.7" y2="456.6" stroke="#333" stroke-width="1.1"/>
<rect x="559.9" y="442.7" width="15.1" height="10.9" fill="none" stroke="#000" stroke-width="2"/>
<circle cx="559.9" cy="439.1" r="2.4" stroke="#444" stroke-width="1.1" fill="#fff"/>
<circle cx="559.9" cy="456.8" r="2.4" stroke="#444" stroke-width="1.1" fill="#fff"/>
<circle cx="577.9" cy="439.1" r="2.4" stroke="#444" stroke-width="1.1" fill="#fff"/>
<circle cx="577.9" cy="456.8" r="2.4" stroke="#444" stroke-width="1.1" fill="#fff"/>
<text x="567" y="465.8" font-size="6" fill="#444" text-anchor="middle" >EV</text>
<rect x="293.7" y="367.7" width="14.100000000000023" height="12.800000000000011" fill="#fff" stroke="#333" stroke-width="1.1"/>
<text x="301.25" y="378.0" font-size="10" fill="#333" text-anchor="middle" >A</text>
<rect x="405.2" y="367.7" width="14.400000000000034" height="12.800000000000011" fill="#fff" stroke="#333" stroke-width="1.1"/>
<text x="412.9" y="378.0" font-size="10" fill="#333" text-anchor="middle" >B</text>
<rect x="625.4" y="367.7" width="14.100000000000023" height="12.800000000000011" fill="#fff" stroke="#333" stroke-width="1.1"/>
<text x="632.95" y="378.0" font-size="10" fill="#333" text-anchor="middle" >C</text>
<path d="M114.3,405.09999999999997 L105.6,409.2 L114.3,413.3 M141.8,405.09999999999997 L150.5,409.2 L141.8,413.3" fill="none" stroke="#333" stroke-width="1.2"/>
<text x="122.1" y="413.4" font-size="11" fill="#333" text-anchor="middle" >下</text>
<text x="134.6" y="413.4" font-size="11" fill="#333" text-anchor="middle" >り</text>
<path d="M804.7,408.09999999999997 L796,412.2 L804.7,416.3 M832.2,408.09999999999997 L840.9,412.2 L832.2,416.3" fill="none" stroke="#333" stroke-width="1.2"/>
<text x="812.5" y="416.4" font-size="11" fill="#333" text-anchor="middle" >下</text>
<text x="825" y="416.4" font-size="11" fill="#333" text-anchor="middle" >り</text>
<path d="M114.7,474.7 L106,478.8 L114.7,482.90000000000003 M142.2,474.7 L150.9,478.8 L142.2,482.90000000000003" fill="none" stroke="#333" stroke-width="1.2"/>
<text x="122.5" y="483.0" font-size="11" fill="#333" text-anchor="middle" >上</text>
<text x="135" y="483.0" font-size="11" fill="#333" text-anchor="middle" >り</text>
<path d="M805.2,470.9 L796.5,475 L805.2,479.1 M832.7,470.9 L841.4,475 L832.7,479.1" fill="none" stroke="#333" stroke-width="1.2"/>
<text x="813.0" y="479.2" font-size="11" fill="#333" text-anchor="middle" >上</text>
<text x="825.5" y="479.2" font-size="11" fill="#333" text-anchor="middle" >り</text>
<text x="188.3" y="481.8" font-size="12" fill="#333" text-anchor="start" >あびこ</text>
<text x="716" y="416.2" font-size="12" fill="#333" text-anchor="start" >新金岡</text>
<path d="M155,479 L161,474 L161,476.8 L176.5,476.8 L176.5,481.2 L161,481.2 L161,484 Z" fill="#fff" stroke="#333" stroke-width="1.1"/>
<path d="M782,418 L776,413 L776,415.8 L760.5,415.8 L760.5,420.2 L776,420.2 L776,423 Z" fill="#fff" stroke="#333" stroke-width="1.1"/>
<line x1="403" y1="451" x2="403" y2="477" stroke="#e00" stroke-width="2"/>
<path d="M398,468.6 L403,477.7 L408.2,468.6" fill="none" stroke="#e00" stroke-width="2"/>
<ellipse cx="403.6" cy="499.5" rx="15" ry="15.9" fill="none" stroke="#d00" stroke-width="1.8"/>
<text x="773.6" y="559.9" font-size="13.8" fill="#222" textLength="44.5" lengthAdjust="spacingAndGlyphs">2020.12</text><text x="819.5" y="560" font-size="13" fill="#222" textLength="50.5" lengthAdjust="spacing">月現時点</text>
</svg>
</body></html>
